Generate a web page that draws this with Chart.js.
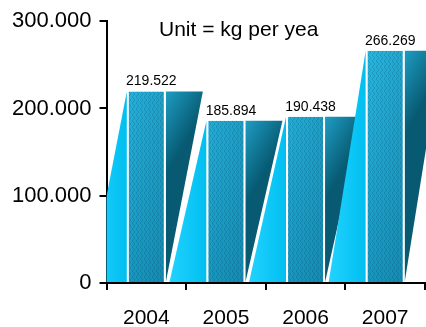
<!DOCTYPE html>
<html>
<head>
<meta charset="utf-8">
<script src="https://cdn.jsdelivr.net/npm/chart.js@4.4.1/dist/chart.umd.min.js"></script>
<style>
  html, body { margin: 0; padding: 0; background: #fff; }
  #wrap { width: 426px; height: 327px; }
</style>
</head>
<body>
<div id="wrap"><canvas id="chart" width="426" height="327"></canvas></div>
<script>
// values
const YEARS = ['2004', '2005', '2006', '2007'];
const AMOUNTS = [219522, 185894, 190438, 266269];
const Y_TICKS = [0, 100000, 200000, 300000];
const UNIT_NOTE = 'Unit = kg per yea';

const FONT = '"Liberation Sans", Arial, sans-serif';
const SKEW = 37; // horizontal lean of the ribbon sides

// 219522 -> "219.522"
function fmt(v) {
  return String(v).replace(/\B(?=(\d{3})+(?!\d))/g, '.');
}

let texture = null;
function getTexture(ctx) {
  if (texture) return texture;
  const c = document.createElement('canvas');
  c.width = 4;
  c.height = 6;
  const g = c.getContext('2d');
  g.fillStyle = 'rgba(0,70,105,0.22)';
  // small diamond lattice
  g.fillRect(0, 0, 1, 2);
  g.fillRect(1, 2, 1, 1);
  g.fillRect(2, 3, 1, 2);
  g.fillRect(1, 5, 1, 1);
  texture = ctx.createPattern(c, 'repeat');
  return texture;
}

function barBox(bar) {
  const p = bar.getProps(['x', 'y', 'base', 'width'], true);
  return { L: p.x - p.width / 2, R: p.x + p.width / 2, top: p.y, base: p.base, x: p.x };
}

const ribbonPlugin = {
  id: 'ribbon',
  beforeDatasetsDraw(chart) {
    const { ctx, chartArea } = chart;
    const meta = chart.getDatasetMeta(0);
    ctx.save();
    ctx.beginPath();
    ctx.rect(chartArea.left, 0, chart.width - chartArea.left, chartArea.bottom);
    ctx.clip();
    meta.data.forEach((bar) => {
      const b = barBox(bar);

      // bright left wedge
      let g = ctx.createLinearGradient(b.L - SKEW, 0, b.L, 0);
      g.addColorStop(0, '#22d2ff');
      g.addColorStop(1, '#00bff0');
      ctx.fillStyle = g;
      ctx.beginPath();
      ctx.moveTo(b.L, b.top);
      ctx.lineTo(b.L, b.base);
      ctx.lineTo(b.L - SKEW, b.base);
      ctx.closePath();
      ctx.fill();

      // dark right wedge
      g = ctx.createLinearGradient(b.R, b.top, b.R + SKEW, b.top + 22);
      g.addColorStop(0, '#1e9cc2');
      g.addColorStop(1, '#075a72');
      ctx.fillStyle = g;
      ctx.beginPath();
      ctx.moveTo(b.R, b.top);
      ctx.lineTo(b.R + SKEW, b.top);
      ctx.lineTo(b.R, b.base);
      ctx.closePath();
      ctx.fill();
    });
    ctx.restore();
  },
  afterDatasetsDraw(chart) {
    const { ctx } = chart;
    const meta = chart.getDatasetMeta(0);
    const pat = getTexture(ctx);
    ctx.save();
    meta.data.forEach((bar, i) => {
      const b = barBox(bar);
      const w = b.R - b.L - 4;
      ctx.save();
      ctx.beginPath();
      ctx.rect(b.L + 2, b.top, w, b.base - b.top);
      ctx.clip();
      ctx.fillStyle = pat;
      ctx.fillRect(b.L + 2, b.top, w, b.base - b.top);
      const shade = ctx.createLinearGradient(b.L, 0, b.R, 0);
      shade.addColorStop(0, 'rgba(0,40,60,0)');
      shade.addColorStop(1, 'rgba(0,40,60,0.12)');
      ctx.fillStyle = shade;
      ctx.fillRect(b.L + 2, b.top, w, b.base - b.top);
      ctx.restore();

      // value label
      ctx.fillStyle = '#000';
      ctx.font = '14px ' + FONT;
      ctx.textAlign = 'center';
      ctx.textBaseline = 'alphabetic';
      ctx.fillText(fmt(AMOUNTS[i]), b.x + 5, b.top - 6);
    });

    ctx.font = '21px ' + FONT;
    ctx.textAlign = 'left';
    ctx.fillStyle = '#000';
    ctx.fillText(UNIT_NOTE, 159, 36);
    ctx.restore();
  },
};

new Chart(document.getElementById('chart'), {
  type: 'bar',
  data: {
    labels: YEARS,
    datasets: [{
      data: AMOUNTS,
      backgroundColor: (c) => {
        const area = c.chart.chartArea;
        if (!area) return '#20a8d0';
        const g = c.chart.ctx.createLinearGradient(0, area.top, 0, area.bottom);
        g.addColorStop(0, '#2abae4');
        g.addColorStop(1, '#1896be');
        return g;
      },
      borderColor: '#ffffff',
      borderWidth: { left: 2, right: 2, top: 0, bottom: 0 },
      borderSkipped: false,
      barPercentage: 1,
      categoryPercentage: 0.49,
    }],
  },
  options: {
    responsive: false,
    animation: false,
    layout: { padding: { top: 7, right: 1, left: 4, bottom: 0 } },
    plugins: {
      legend: { display: false },
      tooltip: { enabled: false },
      title: { display: false },
    },
    scales: {
      x: {
        offset: true,
        afterFit: (scale) => { scale.height = 44; },
        grid: {
          offset: true,
          drawOnChartArea: false,
          drawTicks: true,
          tickLength: 7,
          color: '#000',
          lineWidth: 2,
        },
        border: { display: true, color: '#000', width: 2 },
        ticks: { color: '#000', font: { family: FONT, size: 21 }, padding: 16 },
      },
      y: {
        min: 0,
        max: 300000,
        afterBuildTicks: (scale) => {
          scale.ticks = Y_TICKS.map((v) => ({ value: v }));
        },
        grid: {
          drawOnChartArea: false,
          drawTicks: true,
          tickLength: 7,
          color: '#000',
          lineWidth: 2,
        },
        border: { display: true, color: '#000', width: 2 },
        ticks: {
          color: '#000',
          font: { family: FONT, size: 22 },
          padding: 8,
          callback: (v) => fmt(v),
        },
      },
    },
  },
  plugins: [ribbonPlugin],
});
</script>
</body>
</html>
